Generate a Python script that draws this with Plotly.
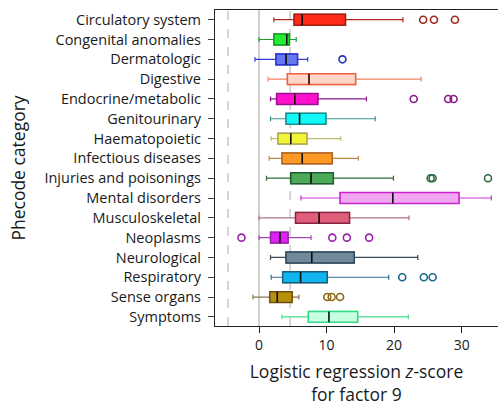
import plotly.graph_objects as go

categories = ["Circulatory system", "Congenital anomalies", "Dermatologic", "Digestive",
              "Endocrine/metabolic", "Genitourinary", "Haematopoietic", "Infectious diseases",
              "Injuries and poisonings", "Mental disorders", "Musculoskeletal", "Neoplasms",
              "Neurological", "Respiratory", "Sense organs", "Symptoms"]

lower_whisker = [2.2, 0.0, -0.6, 1.35, 1.7, 1.7, 1.8, 1.5, 1.1, 6.2, 0.0, 0.0, 1.7, 1.8, -0.9, 3.4]
q1_values = [5.2, 2.2, 2.5, 4.2, 2.6, 4.0, 2.8, 3.4, 4.7, 12.0, 5.4, 1.7, 4.0, 3.5, 1.6, 7.3]
median_values = [6.4, 4.1, 4.0, 7.4, 5.3, 6.0, 4.7, 6.4, 7.7, 19.8, 8.9, 3.1, 7.8, 6.15, 2.7, 10.35]
q3_values = [12.8, 4.5, 5.7, 14.3, 8.7, 9.9, 7.1, 10.85, 11.0, 29.6, 13.4, 4.3, 14.1, 10.1, 4.9, 14.6]
upper_whisker = [21.3, 5.5, 7.2, 24.0, 15.9, 17.2, 12.1, 14.7, 19.9, 34.4, 22.2, 7.7, 23.5, 19.2, 5.9, 22.1]
outliers = [[24.3, 25.9, 29.0], [], [12.35], [], [22.9, 28.0, 28.8], [], [], [],
            [25.4, 25.7, 33.9], [], [], [-2.6, 10.85, 13.0, 16.3], [], [21.2, 24.4, 25.7],
            [10.1, 10.75, 12.0], []]

fill_colors = ["#ff2a1a", "#22ee33", "#6677f0", "#ffd6c8", "#ff10cc", "#10f8f8", "#f4f436",
               "#ff9926", "#4caa58", "#f0a6f2", "#e0607c", "#dd22f8", "#708a9c", "#10b4ee",
               "#b8900c", "#c8ffe2"]
line_colors = ["#a01c12", "#129a20", "#2a36d0", "#ee6040", "#9a1090", "#1a9090", "#a8a850",
               "#b06424", "#1e5e2e", "#cc22cc", "#8a2444", "#9a22aa", "#2f4858", "#1a5f7c",
               "#70500e", "#33dd88"]
whisker_colors = ["#b0281e", "#229b2a", "#3040d0", "#f08464", "#8b1a8b", "#3a9090", "#c0bc70",
                  "#c08848", "#2e6b3e", "#cc33cc", "#b07488", "#a848b8", "#3a4a58", "#2a7090",
                  "#8b7355", "#44dd88"]
outlier_colors = ["#a0281e", "#129a20", "#2233cc", "#ee6040", "#8b1a8b", "#1a9090", "#a8a850",
                  "#b06424", "#2e6b3e", "#cc22cc", "#8a2444", "#9922aa", "#2f4858", "#1a6a8a",
                  "#8b6914", "#33dd88"]

dashed_lines = [-4.6, 4.6]
zero_line = 0
x_ticks = [0, 10, 20, 30]

fig = go.Figure()

for i, cat in enumerate(categories):
    # whiskers (drawn first)
    fig.add_trace(go.Box(
        y=[cat], q1=[q1_values[i]], median=[median_values[i]], q3=[q3_values[i]],
        lowerfence=[lower_whisker[i]], upperfence=[upper_whisker[i]],
        orientation="h", width=0.55, whiskerwidth=0.45,
        fillcolor="rgba(0,0,0,0)", line=dict(color=whisker_colors[i], width=1.2),
        boxpoints=False, showlegend=False, hoverinfo="skip"))
    # box body
    fig.add_trace(go.Box(
        y=[cat], q1=[q1_values[i]], median=[median_values[i]], q3=[q3_values[i]],
        lowerfence=[q1_values[i]], upperfence=[q3_values[i]],
        orientation="h", width=0.55, whiskerwidth=0,
        fillcolor=fill_colors[i], line=dict(color=line_colors[i], width=1.5),
        boxpoints=False, showlegend=False, hoverinfo="skip"))
    # median line
    fig.add_trace(go.Box(
        y=[cat], q1=[median_values[i]], median=[median_values[i]], q3=[median_values[i]],
        lowerfence=[median_values[i]], upperfence=[median_values[i]],
        orientation="h", width=0.55, whiskerwidth=0,
        fillcolor="rgba(0,0,0,0)", line=dict(color="#111111", width=1.5),
        boxpoints=False, showlegend=False, hoverinfo="skip"))
    if outliers[i]:
        fig.add_trace(go.Scatter(
            x=outliers[i], y=[cat] * len(outliers[i]), mode="markers",
            marker=dict(symbol="circle-open", size=7, color=outlier_colors[i],
                        line=dict(width=1.6, color=outlier_colors[i])),
            showlegend=False, hoverinfo="skip"))

for xv in dashed_lines:
    fig.add_vline(x=xv, line=dict(color="#c4c4c4", width=1.4, dash="dash"), layer="below")
fig.add_vline(x=zero_line, line=dict(color="#c4c4c4", width=1.6), layer="below")

fig.update_layout(
    width=498, height=406,
    margin=dict(l=215, r=0, t=10, b=80),
    paper_bgcolor="white", plot_bgcolor="white",
    font=dict(family="Open Sans", size=14, color="#1a1a1a"),
    boxmode="overlay",
)
fig.update_xaxes(
    range=[-6.52, 35.38], tickvals=x_ticks, ticks="outside", ticklen=6, tickcolor="#222222",
    showline=True, linecolor="#222222", linewidth=1.2, mirror=True, showgrid=False,
    zeroline=False, tickfont=dict(size=14),
    title=dict(text="Logistic regression <i>z</i>-score<br>for factor 9",
               font=dict(size=17.5), standoff=15),
)
fig.update_yaxes(
    type="category", categoryorder="array", categoryarray=categories,
    range=[15.46, -0.49], ticks="outside", ticklen=6, tickcolor="#444444",
    ticklabelstandoff=4,
    showline=True, linecolor="#222222", linewidth=1.2, showgrid=False, zeroline=False,
    tickfont=dict(size=14.5),
    title=dict(text="Phecode category", font=dict(size=17.5), standoff=14),
)

fig.write_html("out.html")
